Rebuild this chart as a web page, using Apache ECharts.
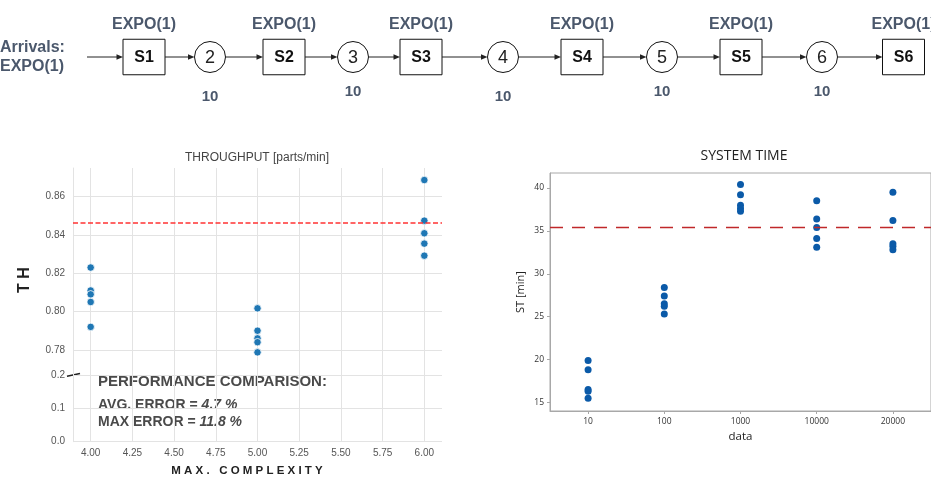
<!DOCTYPE html>
<html>
<head>
<meta charset="utf-8">
<script src="https://cdn.jsdelivr.net/npm/echarts@6/dist/echarts.min.js"></script>
<style>
html,body{margin:0;padding:0;background:#fff;}
#c{width:931px;height:479px;}
</style>
</head>
<body>
<div id="c"></div>
<script>
// ---------- Flow line diagram (texts) ----------
const stations = ['S1', 'S2', 'S3', 'S4', 'S5', 'S6'];
const serviceLabels = ['EXPO(1)', 'EXPO(1)', 'EXPO(1)', 'EXPO(1)', 'EXPO(1)', 'EXPO(1)'];
const buffers = ['2', '3', '4', '5', '6'];
const bufferCaps = ['10', '10', '10', '10', '10'];
const arrivalText = ['Arrivals:', 'EXPO(1)'];

// ---------- Throughput chart ----------
const thComplexity = [4, 4, 4, 4, 4, 5, 5, 5, 5, 5, 6, 6, 6, 6, 6];
const thValues = [0.823, 0.811, 0.809, 0.805, 0.792,
                  0.8017, 0.790, 0.786, 0.784, 0.7787,
                  0.8687, 0.8475, 0.8409, 0.8355, 0.8292];
const thReference = 0.8466;
const thXTicks = [4.00, 4.25, 4.50, 4.75, 5.00, 5.25, 5.50, 5.75, 6.00];
const thYTicksUpper = [0.78, 0.80, 0.82, 0.84, 0.86];
const thYTicksLower = [0.0, 0.1, 0.2];
const thTitle = 'THROUGHPUT [parts/min]';
const thYName = 'T H';
const thXName = 'M A X .   C O M P L E X I T Y';
const perfTitle = 'PERFORMANCE COMPARISON:';
const avgErrorLabel = 'AVG. ERROR = ';
const avgErrorValue = '4.7 %';
const maxErrorLabel = 'MAX ERROR = ';
const maxErrorValue = '11.8 %';

// ---------- System time chart ----------
const stCategories = ['10', '100', '1000', '10000', '20000'];
const st10 = [19.9, 18.8, 16.5, 16.3, 15.5];
const st100 = [28.4, 27.4, 26.5, 26.2, 25.3];
const st1000 = [40.4, 39.2, 38.0, 37.6, 37.3];
const st10000 = [38.5, 36.4, 35.4, 34.1, 33.1];
const st20000 = [39.5, 36.2, 33.5, 33.2, 32.8];
const stReference = 35.4;
const stYTicks = [15, 20, 25, 30, 35, 40];
const stTitle = 'SYSTEM TIME';
const stXName = 'data';
const stYName = 'ST [min]';

// ---------- layout (positions only) ----------
const ARIAL = '"Liberation Sans", Arial, sans-serif';
const SEGOE = '"Open Sans", "Noto Sans", sans-serif';
const slate = '#4b586c';
const boxCx = [144, 284, 421, 582, 741, 903.5];
const circCx = [210, 353, 503, 662, 822];
const capY = [97, 91.5, 97, 91.5, 91.5];
const lineY = 57;
const boxW = 42, boxH = 35.5, circR = 15.5;

const graphics = [];
function txt(text, x, y, font, fill, align, extra) {
  const o = {type: 'text', x: x, y: y, silent: true,
    style: {text: text, x: 0, y: 0, font: font, fill: fill,
            textAlign: align || 'center', textVerticalAlign: 'middle'}};
  return Object.assign(o, extra || {});
}
function arrow(x1, x2) {
  graphics.push({type: 'line', silent: true,
    shape: {x1: x1, y1: lineY, x2: x2 - 5, y2: lineY},
    style: {stroke: '#222', lineWidth: 1}});
  graphics.push({type: 'polygon', silent: true,
    shape: {points: [[x2, lineY], [x2 - 6.5, lineY - 2.7], [x2 - 6.5, lineY + 2.7]]},
    style: {fill: '#222'}});
}
// arrivals
graphics.push(txt(arrivalText[0], 0, 48, 'bold 16px ' + ARIAL, slate, 'left'));
graphics.push(txt(arrivalText[1], 0, 67, 'bold 16px ' + ARIAL, slate, 'left'));
arrow(87, boxCx[0] - boxW / 2);
stations.forEach(function (s, i) {
  const cx = boxCx[i];
  graphics.push({type: 'rect', silent: true,
    shape: {x: cx - boxW / 2, y: lineY - boxH / 2, width: boxW, height: boxH},
    style: {fill: '#fff', stroke: '#111', lineWidth: 1}});
  graphics.push(txt(s, cx, lineY + 1, 'bold 16px ' + ARIAL, '#111'));
  graphics.push(txt(serviceLabels[i], cx, 25, 'bold 16px ' + ARIAL, slate));
  if (i < buffers.length) {
    const bx = circCx[i];
    arrow(cx + boxW / 2, bx - circR);
    graphics.push({type: 'circle', silent: true,
      shape: {cx: bx, cy: lineY, r: circR},
      style: {fill: '#fff', stroke: '#111', lineWidth: 1}});
    graphics.push(txt(buffers[i], bx, lineY + 1, '18px ' + ARIAL, '#222'));
    graphics.push(txt(bufferCaps[i], bx, capY[i], 'bold 15px ' + ARIAL, slate));
    arrow(bx + circR, boxCx[i + 1] - boxW / 2);
  }
});

// chart texts
graphics.push(txt(thTitle, 257, 158, '12px ' + ARIAL, '#444'));
graphics.push(txt(thYName, 25, 280, 'bold 16px ' + ARIAL, '#222', 'center', {rotation: Math.PI / 2}));
graphics.push(txt(thXName, 247, 471, 'bold 11.5px ' + ARIAL, '#222'));
graphics.push(txt(perfTitle, 98, 382, 'bold 15px ' + ARIAL, '#4a4a4a', 'left'));
graphics.push({type: 'text', x: 98, y: 405, silent: true,
  style: {text: '{a|' + avgErrorLabel + '}{b|' + avgErrorValue + '}', x: 0, y: 0,
    textAlign: 'left', textVerticalAlign: 'middle',
    rich: {a: {font: 'bold 14px ' + ARIAL, fill: '#4a4a4a'},
           b: {font: 'italic bold 14px ' + ARIAL, fill: '#4a4a4a'}}}});
graphics.push({type: 'text', x: 98, y: 422, silent: true,
  style: {text: '{a|' + maxErrorLabel + '}{b|' + maxErrorValue + '}', x: 0, y: 0,
    textAlign: 'left', textVerticalAlign: 'middle',
    rich: {a: {font: 'bold 14px ' + ARIAL, fill: '#4a4a4a'},
           b: {font: 'italic bold 14px ' + ARIAL, fill: '#4a4a4a'}}}});
// axis break mark
graphics.push({type: 'line', silent: true,
  shape: {x1: 67, y1: 376.3, x2: 80, y2: 373.5},
  style: {stroke: '#222', lineWidth: 1.6}});
graphics.push(txt(stTitle, 744, 156, '14px ' + SEGOE, '#222'));

const grid = '#e3e3e3';
const chart = echarts.init(document.getElementById('c'), null, {renderer: 'canvas'});
const thData = thComplexity.map(function (x, i) { return [x, thValues[i]]; });
const stSeriesData = [];
[st10, st100, st1000, st10000, st20000].forEach(function (arr, ci) {
  arr.forEach(function (v) { stSeriesData.push([stCategories[ci], v]); });
});
const vGridLines = thXTicks.map(function (v) { return {xAxis: v}; });

function leftX(idx, showLabel) {
  return {
    type: 'value', gridIndex: idx, min: 3.894, max: 6.106,
    axisLine: {show: false},
    axisTick: {show: false, customValues: thXTicks},
    axisLabel: {show: showLabel, customValues: thXTicks, color: '#555', fontSize: 10,
                fontFamily: ARIAL, margin: 7, formatter: function (v) { return v.toFixed(2); }},
    splitLine: {show: false}
  };
}
function gridLineSeries(idx) {
  return {type: 'scatter', xAxisIndex: idx, yAxisIndex: idx, data: [], z: 1,
    markLine: {silent: true, symbol: 'none', label: {show: false}, z: 1, precision: 4,
      lineStyle: {color: grid, type: 'solid', width: 1}, emphasis: {disabled: true},
      data: vGridLines}};
}

chart.setOption({
  animation: false,
  backgroundColor: '#fff',
  graphic: graphics,
  grid: [
    {left: 73, top: 168, width: 369, height: 201},
    {left: 73, top: 369, width: 369, height: 72.7},
    {left: 550, top: 173, width: 392.5, height: 238, show: true,
     borderColor: '#a8a8a8', borderWidth: 1, backgroundColor: 'transparent'}
  ],
  xAxis: [
    leftX(0, false),
    leftX(1, true),
    {type: 'category', gridIndex: 2, data: stCategories, boundaryGap: true,
     axisLine: {show: true, lineStyle: {color: '#a8a8a8'}},
     axisTick: {show: true, alignWithLabel: true, length: 3, lineStyle: {color: '#a8a8a8'}},
     axisLabel: {color: '#333', fontSize: 8.5, fontFamily: SEGOE, margin: 6},
     splitLine: {show: false},
     name: stXName, nameLocation: 'middle', nameGap: 20,
     nameTextStyle: {color: '#222', fontSize: 11.5, fontFamily: SEGOE}}
  ],
  yAxis: [
    {type: 'value', gridIndex: 0, min: 0.77, max: 0.875,
     axisLine: {show: true, lineStyle: {color: grid}},
     axisTick: {show: false, customValues: thYTicksUpper},
     axisLabel: {customValues: thYTicksUpper, color: '#555', fontSize: 10, fontFamily: ARIAL,
                 margin: 8, formatter: function (v) { return v.toFixed(2); }},
     splitLine: {show: true, lineStyle: {color: grid}}},
    {type: 'value', gridIndex: 1, min: 0, max: 0.218,
     axisLine: {show: true, lineStyle: {color: grid}},
     axisTick: {show: false, customValues: thYTicksLower},
     axisLabel: {customValues: thYTicksLower, color: '#555', fontSize: 10, fontFamily: ARIAL,
                 margin: 8, formatter: function (v) { return v.toFixed(1); }},
     splitLine: {show: true, lineStyle: {color: grid}}},
    {type: 'value', gridIndex: 2, min: 14, max: 41.75,
     axisLine: {show: true, lineStyle: {color: '#a8a8a8'}},
     axisTick: {show: true, length: 3, customValues: stYTicks, lineStyle: {color: '#a8a8a8'}},
     axisLabel: {customValues: stYTicks, color: '#333', fontSize: 8.5, fontFamily: SEGOE, margin: 6},
     splitLine: {show: false},
     name: stYName, nameLocation: 'middle', nameGap: 24, nameRotate: 90,
     nameTextStyle: {color: '#222', fontSize: 11, fontFamily: SEGOE}}
  ],
  series: [
    gridLineSeries(0),
    gridLineSeries(1),
    {type: 'scatter', xAxisIndex: 0, yAxisIndex: 0, data: thData, symbolSize: 7.5, z: 3,
     itemStyle: {color: '#1f77b4', borderColor: '#fff', borderWidth: 0.8, opacity: 1},
     markLine: {silent: true, symbol: 'none', label: {show: false}, precision: 4,
       lineStyle: {color: '#ff3333', type: [5, 2.5], width: 1.6},
       data: [{yAxis: thReference}]}},
    {type: 'scatter', xAxisIndex: 2, yAxisIndex: 2, data: stSeriesData, symbolSize: 7,
     itemStyle: {color: '#0b5aa8', opacity: 1},
     markLine: {silent: true, symbol: 'none', label: {show: false}, precision: 4,
       lineStyle: {color: '#c0282a', type: [13, 9], width: 1.3},
       data: [{yAxis: stReference}]}}
  ]
});
</script>
</body>
</html>
